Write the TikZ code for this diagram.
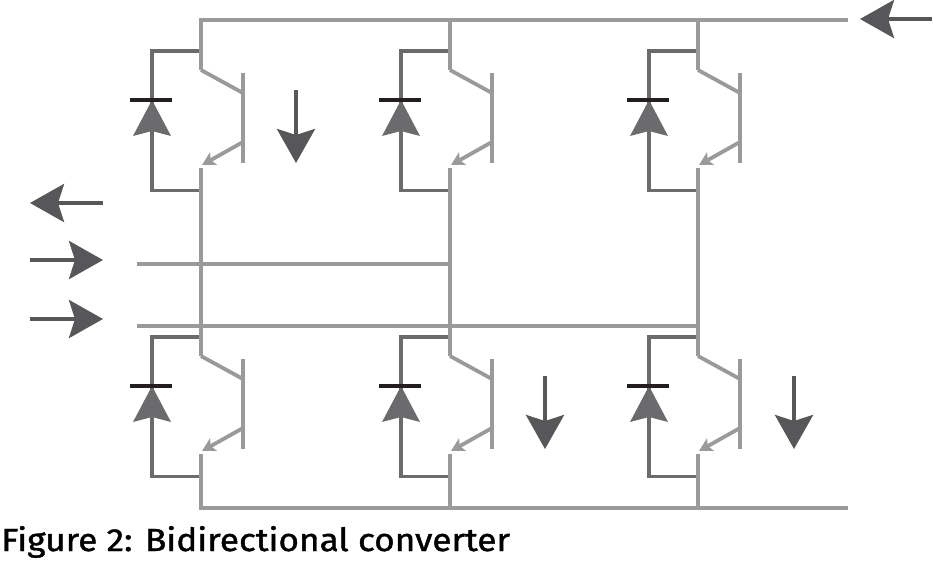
\documentclass[tikz,border=0pt]{standalone}
\usepackage{fontspec}
\newfontfamily\capfont{Fira Sans}[FakeBold=1.2]
\usetikzlibrary{arrows.meta}
\definecolor{lgray}{HTML}{9A9A9C}
\definecolor{dgray}{HTML}{6B6B6E}
\definecolor{agray}{HTML}{575759}
\definecolor{bargray}{HTML}{231F20}
\begin{document}
\begin{tikzpicture}[x=1pt,y=-1pt,line join=miter,
	wire/.style={lgray,line width=3.8pt},
	loopline/.style={dgray,line width=3.8pt},
	flow/.style={agray,line width=4pt,-{Stealth[length=34pt,width=38pt,inset=6pt]}}]
	\useasboundingbox (0,0) rectangle (933,563);
	\def\cell#1#2#3{%
		\begin{scope}[shift={(#2,#3)}]
			\coordinate (#1-top) at (0,0);
			\coordinate (#1-k) at (0,19);
			\coordinate (#1-b) at (42,42);
			\coordinate (#1-e) at (1,114);
			\coordinate (#1-bot) at (0,117);
			\coordinate (#1-out) at (0,139.5);
			\draw[loopline] (#1-top) -- (-49,0) -- (-49,139.5) -- (#1-out);
			\draw[loopline,line width=0pt,-{Stealth[length=36pt,width=38pt,inset=5pt]}] (-49,90) -- (-49,49);
			\draw[bargray,line width=4pt] (-71,49) -- (-29,49);
			\draw[wire] (#1-k) -- (#1-b);
			\draw[wire] (42,22) -- (42,112);
			\draw[wire,-{Stealth[length=13pt,width=14pt,inset=3pt]}] (42,91) -- (#1-e);
		\end{scope}}
	% upper and lower switches
	\foreach \n/\x in {1/201,2/450,3/698}{
		\cell{u\n}{\x}{51}
		\cell{l\n}{\x}{337}
	}
	\coordinate (dcp) at (848,20);
	\coordinate (dcn) at (848,508);
	\coordinate (pa) at (137,264);
	\coordinate (pb) at (137,326);
	% buses
	\draw[wire] (u1-k) |- (dcp);
	\draw[wire] (u2-k) -- (u2-k |- dcp);
	\draw[wire] (u3-k) -- (u3-k |- dcp);
	\draw[wire] (l1-bot) |- (dcn);
	\draw[wire] (l2-bot) -- (l2-bot |- dcn);
	\draw[wire] (l3-bot) -- (l3-bot |- dcn);
	\foreach \n in {1,2,3}{\draw[wire] (u\n-bot) -- (l\n-k);}
	\draw[wire] (pa) -- (pa -| u2-bot);
	\draw[wire] (pb) -- (pb -| u3-bot);
	% current arrows
	\draw[flow] (103,203) -- (30,203);
	\draw[flow] (30,260) -- (103,260);
	\draw[flow] (30,319) -- (103,319);
	\draw[flow] (932,19) -- (860,19);
	\draw[flow] (296,90) -- (296,163);
	\draw[flow] (545,376) -- (545,449);
	\draw[flow] (794,376) -- (794,449);
	\node[anchor=base west,inner sep=0pt] (cap) at (1,551) {\scalebox{1.1}[1]{\capfont\fontsize{32}{36}\selectfont Figure 2: Bidirectional converter}};
\end{tikzpicture}
\end{document}
